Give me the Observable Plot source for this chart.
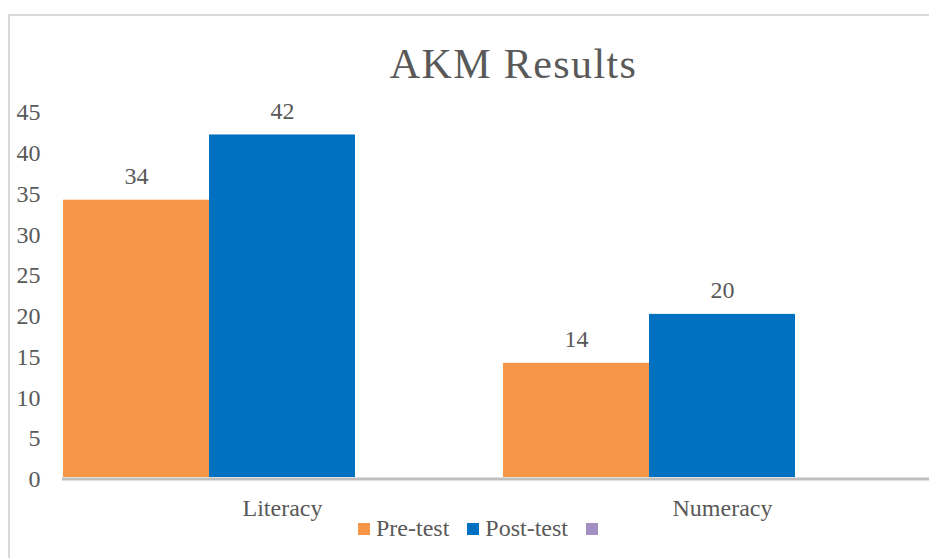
<!DOCTYPE html>
<html>
<head>
<meta charset="utf-8">
<script src="https://cdn.jsdelivr.net/npm/d3@7"></script>
<script src="https://cdn.jsdelivr.net/npm/@observablehq/plot@0.6"></script>
<style>
  html, body { margin: 0; padding: 0; background: #ffffff; }
  #wrap { position: relative; width: 929px; height: 558px; overflow: hidden; font-family: "Liberation Serif", "Times New Roman", serif; color: #595959; }
  #frame { position: absolute; left: 8px; top: 14px; width: 1000px; height: 600px; border: 2px solid #d9d9d9; box-sizing: border-box; }
  #chart { position: absolute; left: 0; top: 0; }
  #title { position: absolute; left: 513.5px; top: 43px; transform: translateX(-50%); font-size: 42px; line-height: 42px; letter-spacing: 1.4px; white-space: nowrap; }
  #legend { position: absolute; left: 358px; top: 516px; display: flex; align-items: flex-start; font-size: 24px; line-height: 24px; white-space: nowrap; }
  .item { display: flex; align-items: flex-start; margin-right: 18px; }
  .sw { width: 12px; height: 12px; margin-top: 7px; margin-right: 6px; }
</style>
</head>
<body>
<div id="wrap">
  <div id="frame"></div>
  <div id="chart"></div>
  <div id="title">AKM Results</div>
  <div id="legend"></div>
</div>
<script>
// Data
const categories = ["Literacy", "Numeracy"];
const seriesNames = ["Pre-test", "Post-test", ""];
const seriesColors = ["#f79646", "#0070c0", "#a48fc3"];
const preTest = [34, 14];
const postTest = [42, 20];
const yTicks = [0, 5, 10, 15, 20, 25, 30, 35, 40, 45];

const data = [];
categories.forEach((c, i) => {
  data.push({category: c, series: seriesNames[0], value: preTest[i]});
  data.push({category: c, series: seriesNames[1], value: postTest[i]});
});

const textColor = "#595959";

const chart = Plot.plot({
  width: 929,
  height: 558,
  marginLeft: 62,
  marginRight: -13,
  marginTop: 110,
  marginBottom: 81,
  style: {background: "transparent", fontFamily: "'Liberation Serif', 'Times New Roman', serif", fontSize: "24px", color: textColor},
  fx: {domain: categories, padding: 0, label: null},
  x: {domain: seriesNames, padding: 0, axis: null},
  y: {domain: [0, 45], axis: null},
  color: {domain: seriesNames, range: seriesColors},
  marks: [
    Plot.barY(data, {fx: "category", x: "series", y: "value", fill: "series"}),
    Plot.ruleY([0], {stroke: "#bfbfbf", strokeWidth: 3, dy: 1.5}),
    Plot.axisY({ticks: yTicks, tickSize: 0, tickPadding: 22, fontSize: 24, fill: textColor, dy: 2, label: null, tickFormat: d => String(d)}),
    Plot.axisFx({anchor: "bottom", tickSize: 0, tickPadding: 21, fontSize: 24, fill: textColor, label: null}),
    Plot.text(data, {fx: "category", x: "series", y: "value", text: d => String(d.value), dy: -16, lineAnchor: "bottom", textAnchor: "middle", fontSize: 24, fill: textColor})
  ]
});
document.getElementById("chart").appendChild(chart);

// Legend
const legend = document.getElementById("legend");
seriesNames.forEach((name, i) => {
  const item = document.createElement("div");
  item.className = "item";
  const sw = document.createElement("div");
  sw.className = "sw";
  sw.style.background = seriesColors[i];
  item.appendChild(sw);
  if (name) {
    const t = document.createElement("span");
    t.textContent = name;
    item.appendChild(t);
  }
  legend.appendChild(item);
});
</script>
</body>
</html>
